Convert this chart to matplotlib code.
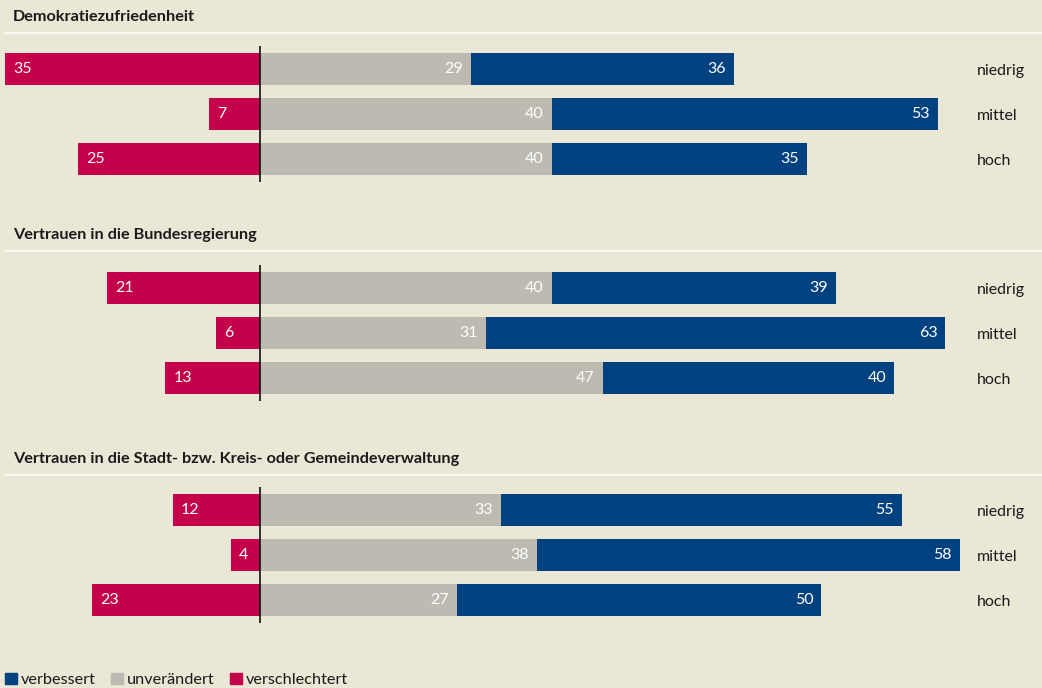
import matplotlib
matplotlib.use("Agg")
import matplotlib.pyplot as plt
from matplotlib.patches import Patch
from matplotlib.lines import Line2D

plt.rcParams["font.family"] = ["Lato", "DejaVu Sans"]

titel = ["Demokratiezufriedenheit",
         "Vertrauen in die Bundesregierung",
         "Vertrauen in die Stadt- bzw. Kreis- oder Gemeindeverwaltung"]
stufen = ["niedrig", "mittel", "hoch"]
verschlechtert = [[35, 7, 25], [21, 6, 13], [12, 4, 23]]
unveraendert = [[29, 40, 40], [40, 31, 47], [33, 38, 27]]
verbessert = [[36, 53, 35], [39, 63, 40], [55, 58, 50]]

ROT, GRAU, BLAU = "#c4004a", "#bdbab2", "#00427f"
BG = "#ebe7d6"
W, H = 1042, 688
PXU = 7.29          # pixel pro Prozentpunkt
NULL_PX = 260       # x-Position der Nulllinie

fig = plt.figure(figsize=(W / 100, H / 100), dpi=100, facecolor=BG)

# (Oberkante Achse, Titel-y, Linien-y) in Pixel
panels = [(46, 17, 33), (265, 235, 251), (487, 459, 475)]
pad = 8 / PXU
xlim = (-NULL_PX / PXU, (W - NULL_PX) / PXU)

for i, (top, ty, ly) in enumerate(panels):
    ax = fig.add_axes([0, 1 - (top + 136) / H, 1, 136 / H])
    ax.set_facecolor("none")
    ax.set_xlim(*xlim)
    ax.set_ylim(2.511, -0.511)
    ax.axis("off")
    ys = range(3)
    r, g, b = verschlechtert[i], unveraendert[i], verbessert[i]
    ax.barh(ys, [-v for v in r], height=0.733, color=ROT)
    ax.barh(ys, g, height=0.733, color=GRAU)
    ax.barh(ys, b, left=g, height=0.733, color=BLAU)
    ax.axvline(0, color="#111111", linewidth=1.2)
    for y in ys:
        ax.text(-r[y] + pad, y, str(r[y]), color="white", va="center", ha="left", fontsize=11.5)
        ax.text(g[y] - pad, y, str(g[y]), color="white", va="center", ha="right", fontsize=11.5)
        ax.text(g[y] + b[y] - pad, y, str(b[y]), color="white", va="center", ha="right", fontsize=11.5)
        ax.text((977 - NULL_PX) / PXU, y + 0.04, stufen[y], color="#1a1a1a", va="center", ha="left",
                fontsize=11.5)
    fig.text(13 / W, 1 - ty / H, titel[i], fontsize=11.7, fontweight="bold", color="#1a1a1a",
             va="center", ha="left")
    fig.add_artist(Line2D([5 / W, 1], [1 - ly / H, 1 - ly / H], color="white", linewidth=1.2))

handles = [Patch(color=BLAU, label="verbessert"),
           Patch(color=GRAU, label="unverändert"),
           Patch(color=ROT, label="verschlechtert")]
fig.legend(handles=handles, loc="lower left", bbox_to_anchor=(5 / W, 1 / H), ncol=3, frameon=False,
           fontsize=11.7, handlelength=0.72, handleheight=0.72, handletextpad=0.25,
           columnspacing=0.95, borderaxespad=0, borderpad=0, labelcolor="#1a1a1a")

fig.savefig("out.png", dpi=100, facecolor=BG)
